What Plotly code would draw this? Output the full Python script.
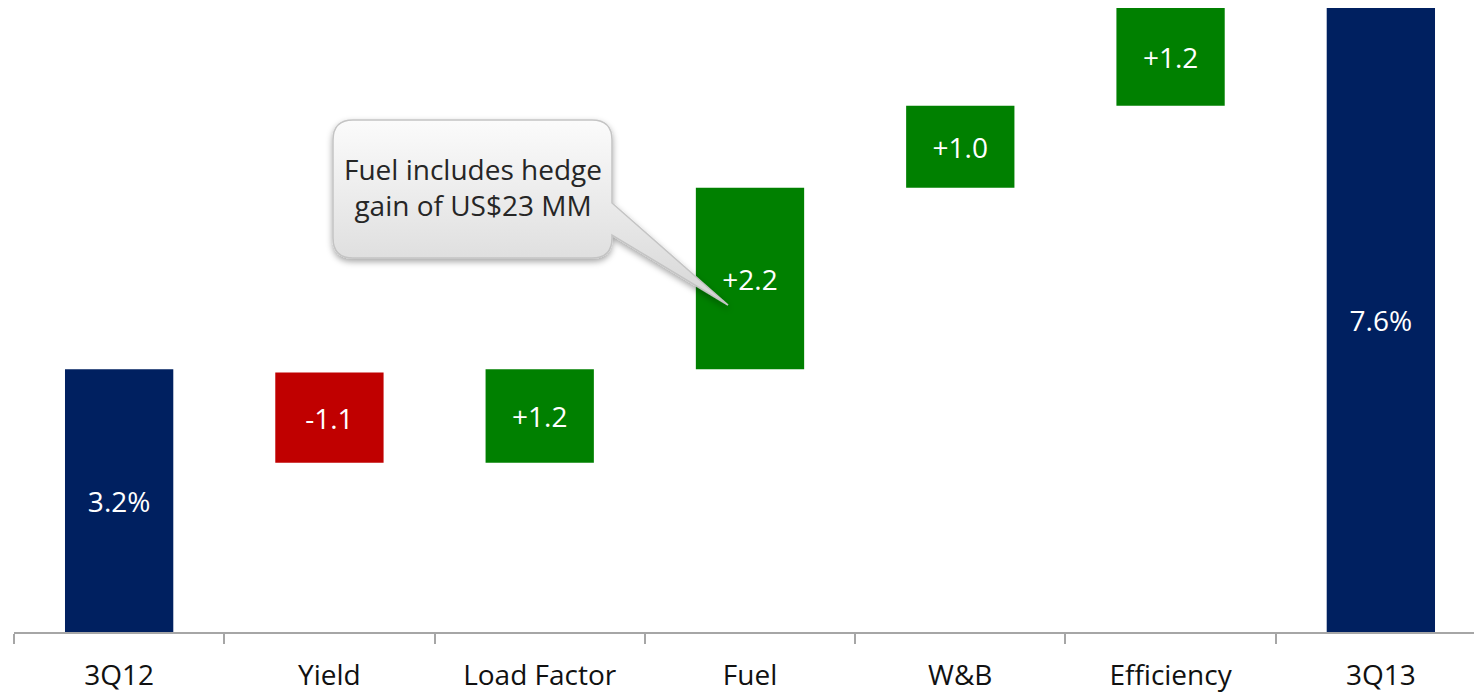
import base64

import plotly.graph_objects as go

# Margin bridge 3Q12 -> 3Q13 (percentage points)
categories = ["3Q12", "Yield", "Load Factor", "Fuel", "W&B", "Efficiency", "3Q13"]
bar_heights = [3.2, 1.1, 1.14, 2.21, 1.0, 1.19, 7.6]
bar_bases = [0, 2.06, 2.06, 3.2, 5.41, 6.41, 0]
bar_labels = ["3.2%", "-1.1", "+1.2", "+2.2", "+1.0", "+1.2", "7.6%"]
bar_kinds = ["total", "down", "up", "up", "up", "up", "total"]

callout_text = "Fuel includes hedge<br>gain of US$23 MM"

kind_colors = {"total": "#002060", "down": "#C00000", "up": "#008000"}
FONT = "Open Sans"

# the page body has an 8px margin, so the figure is offset by that much
BODY = 8
W, H = 1478, 686
M_L, M_R, M_T, M_B = 6, 0, 0, 62
# plot area in page pixels: x 14..1486, y 8..632
PX0, PY1 = BODY + M_L, BODY + H - M_B
PW, PH = W - M_L - M_R, H - M_T - M_B


def px_to_paper(px, py):
    return (px - PX0) / PW, (PY1 - py) / PH


fig = go.Figure()

fig.add_trace(
    go.Bar(
        x=categories,
        y=bar_heights,
        base=bar_bases,
        width=0.515,
        marker=dict(color=[kind_colors[k] for k in bar_kinds], line=dict(width=0)),
        text=bar_labels,
        textposition="inside",
        insidetextanchor="middle",
        textangle=0,
        textfont=dict(family=FONT, size=28, color="white"),
        hoverinfo="x+text",
        showlegend=False,
    )
)

# speech bubble drawn as an svg (gradient + soft shadow), text on top as annotation
bubble_svg = """<svg xmlns='http://www.w3.org/2000/svg' width='415' height='203' viewBox='0 0 415 203'>
<defs>
<linearGradient id='g' x1='0' y1='0' x2='0' y2='1'>
<stop offset='0' stop-color='#fbfbfb'/><stop offset='1' stop-color='#d6d6d6'/>
</linearGradient>
<filter id='s' x='-10%' y='-10%' width='130%' height='130%'>
<feDropShadow dx='0' dy='3' stdDeviation='3' flood-color='#000' flood-opacity='0.35'/>
</filter>
</defs>
<path d='M28,8 H267 Q287,8 287,28 V91 L403,193 L287,123 V126 Q287,146 267,146 H28 Q8,146 8,126 V28 Q8,8 28,8 Z'
 fill='url(#g)' stroke='#c4c4c4' stroke-width='1.5' filter='url(#s)'/>
</svg>"""
bubble_src = "data:image/svg+xml;base64," + base64.b64encode(bubble_svg.encode()).decode()
bx, by = px_to_paper(325, 112)
fig.add_layout_image(
    dict(
        source=bubble_src,
        xref="paper",
        yref="paper",
        x=bx,
        y=by,
        sizex=415 / PW,
        sizey=203 / PH,
        xanchor="left",
        yanchor="top",
        sizing="stretch",
        layer="above",
    )
)
tx, ty = px_to_paper(473, 187)
fig.add_annotation(
    x=tx,
    y=ty,
    xref="paper",
    yref="paper",
    xanchor="center",
    yanchor="middle",
    text=callout_text,
    showarrow=False,
    align="center",
    font=dict(family=FONT, size=28, color="#262626"),
)

fig.update_layout(
    width=W,
    height=H,
    margin=dict(l=M_L, r=M_R, t=M_T, b=M_B),
    paper_bgcolor="white",
    plot_bgcolor="white",
    bargap=0.485,
    font=dict(family=FONT, size=28, color="#111111"),
)
fig.update_xaxes(
    automargin=False,
    showline=True,
    linecolor="#a6a6a6",
    linewidth=2,
    ticks="outside",
    tickson="boundaries",
    ticklen=10,
    tickwidth=2,
    tickcolor="#a6a6a6",
    ticklabelstandoff=17,
    showgrid=False,
    tickfont=dict(family=FONT, size=28, color="#111111"),
)
fig.update_yaxes(visible=False, range=[0, 7.6], showgrid=False, zeroline=False)

fig.write_html("out.html")
